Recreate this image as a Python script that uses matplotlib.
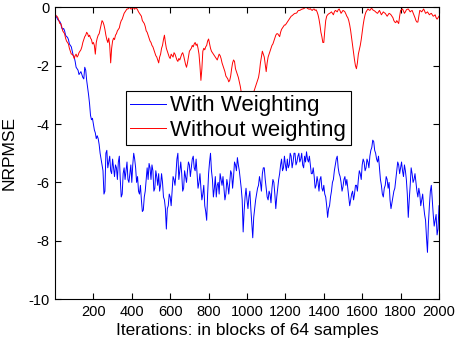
import numpy as np
import matplotlib
matplotlib.use("Agg")
from matplotlib import pyplot as plt

plt.rcParams['font.family'] = ['Liberation Sans', 'DejaVu Sans']
plt.rcParams['axes.unicode_minus'] = False

# iterations: read every 10 blocks, plus the in-between points (every 10, offset 5)
iters_main = np.arange(0, 2001, 10)
iters_mid = np.arange(5, 2000, 10)

# NRPMSE, with weighting (blue) at 0, 10, 20, ...
with_w = [
    -0.25, -0.35, -0.45, -0.55, -0.75, -0.8, -1.0, -1.1, -1.3, -1.5,
    -1.7, -2.05, -2.15, -2.25, -2.3, -2.45, -2.15, -2.75, -3.3, -3.85,
    -4.0, -4.3, -4.4, -4.7, -5.2, -5.6, -6.3, -4.9, -5.3, -5.6,
    -5.2, -5.8, -5.5, -5.3, -5.9, -6.4, -5.5, -5.6, -5.9, -5.7,
    -6.0, -5.0, -5.5, -5.8, -6.4, -6.6, -6.95, -6.3, -5.5, -5.35,
    -5.9, -5.6, -6.2, -5.8, -5.7, -6.1, -6.0, -6.6, -7.6, -6.8,
    -6.5, -6.3, -5.9, -5.7, -5.0, -5.6, -5.7, -6.2, -5.8, -5.6,
    -5.4, -5.5, -5.1, -5.6, -5.7, -6.0, -6.2, -6.4, -6.8, -7.3,
    -5.7, -5.0, -5.9, -6.2, -6.5, -6.0, -5.7, -6.1, -6.2, -6.4,
    -6.1, -6.0, -5.7, -5.8, -5.4, -5.15, -5.6, -6.2, -7.7, -6.5,
    -6.6, -6.5, -6.9, -7.9, -6.9, -6.4, -6.1, -6.0, -5.7, -5.5,
    -6.2, -6.6, -6.4, -6.2, -6.0, -6.9, -6.2, -5.7, -5.2, -5.5,
    -5.4, -5.2, -5.4, -5.1, -5.3, -5.0, -5.3, -5.0, -5.2, -5.4,
    -5.1, -4.95, -5.3, -5.4, -5.7, -5.8, -6.1, -6.0, -5.9, -6.2,
    -6.1, -6.5, -7.2, -6.8, -6.3, -5.9, -5.4, -5.1, -5.7, -6.0,
    -6.15, -5.8, -5.9, -6.5, -6.6, -6.3, -6.4, -6.1, -5.9, -5.7,
    -5.4, -5.3, -5.5, -5.3, -5.1, -4.8, -4.6, -5.0, -5.3, -5.5,
    -6.1, -6.5, -6.1, -5.9, -6.0, -6.9, -6.5, -6.2, -5.6, -5.4,
    -5.5, -5.6, -5.4, -5.9, -7.2, -6.1, -5.7, -5.9, -6.0, -6.5,
    -6.4, -6.6, -6.8, -7.3, -8.4, -6.8, -6.1, -7.1, -7.3, -7.8,
    -6.8,
]

# with weighting, at 5, 15, 25, ...
with_w_mid = [
    -0.3, -0.42, -0.48, -0.7, -0.72, -0.95, -1.02, -1.25, -1.35, -1.65,
    -1.85, -2.1, -2.3, -2.2, -2.4, -2.05, -2.5, -3.0, -3.7, -3.8,
    -4.2, -4.5, -4.5, -5.0, -5.4, -6.4, -5.0, -5.5, -5.1, -5.7,
    -5.5, -5.4, -5.9, -5.1, -6.5, -5.7, -5.9, -5.3, -6.0, -5.4,
    -5.4, -5.2, -6.0, -6.3, -6.1, -7.0, -6.5, -5.9, -5.9, -5.5,
    -5.4, -6.3, -5.6, -6.1, -6.3, -5.7, -6.5, -6.9, -6.9, -6.4,
    -6.8, -5.8, -6.1, -5.2, -5.9, -5.3, -6.3, -5.6, -6.0, -5.3,
    -5.8, -5.2, -5.5, -5.2, -6.2, -5.7, -6.6, -6.1, -7.0, -6.4,
    -5.3, -5.6, -6.5, -5.8, -6.1, -6.4, -5.9, -5.8, -6.6, -5.9,
    -6.4, -5.6, -6.2, -5.3, -5.6, -5.4, -5.9, -6.6, -7.0, -6.2,
    -6.9, -6.3, -7.4, -7.2, -6.6, -6.2, -5.8, -6.3, -5.5, -5.9,
    -6.5, -6.3, -6.7, -5.9, -6.4, -6.5, -5.9, -5.4, -5.6, -5.1,
    -5.6, -5.5, -5.0, -5.5, -5.0, -5.4, -5.1, -5.3, -5.0, -5.5,
    -5.3, -5.2, -5.1, -5.7, -5.5, -6.2, -5.8, -6.3, -5.8, -6.3,
    -6.4, -6.8, -6.9, -6.5, -6.0, -5.6, -5.2, -5.5, -5.8, -6.3,
    -5.9, -6.1, -6.2, -6.8, -6.4, -6.6, -6.1, -6.3, -5.6, -5.9,
    -5.2, -5.6, -5.2, -5.5, -4.9, -4.55, -4.9, -5.2, -5.1, -5.9,
    -6.4, -6.2, -5.8, -6.2, -6.6, -6.7, -6.3, -5.9, -5.3, -5.7,
    -5.3, -5.8, -5.6, -6.4, -6.6, -5.5, -6.0, -5.7, -6.3, -6.2,
    -6.8, -6.4, -7.1, -7.9, -7.4, -6.3, -6.6, -7.5, -7.1, -7.6,
]

# NRPMSE, without weighting (red) at 0, 10, 20, ...
without_w = [
    -0.2, -0.3, -0.45, -0.55, -0.8, -0.9, -1.15, -1.25, -1.5, -1.6,
    -1.75, -1.6, -1.65, -1.5, -1.35, -1.1, -0.95, -0.9, -0.95, -1.1,
    -1.2, -1.6, -1.05, -0.9, -0.6, -0.5, -0.75, -1.1, -1.05, -1.9,
    -1.15, -1.1, -0.9, -0.75, -0.55, -0.4, -0.2, -0.1, -0.05, 0.0,
    -0.05, -0.02, 0.0, -0.08, -0.2, -0.3, -0.5, -0.65, -0.85, -1.05,
    -1.2, -1.35, -1.55, -1.7, -1.9, -1.6, -1.3, -0.95, -1.4, -1.6,
    -1.75, -1.65, -1.55, -1.7, -1.85, -1.8, -1.6, -1.65, -1.95, -1.9,
    -1.5, -1.4, -1.35, -1.2, -1.25, -1.6, -2.5, -1.5, -1.45, -1.3,
    -1.08, -1.4, -1.55, -1.65, -1.75, -1.7, -1.65, -1.9, -2.1, -2.35,
    -2.45, -2.5, -2.1, -1.8, -2.1, -2.3, -2.55, -2.9, -3.1, -3.2,
    -3.0, -3.3, -3.1, -2.95, -2.8, -2.6, -2.4, -1.9, -1.5, -1.7,
    -2.2, -1.7, -1.5, -1.3, -1.15, -0.95, -0.9, -1.0, -0.75, -0.65,
    -0.6, -0.5, -0.4, -0.3, -0.25, -0.2, -0.18, -0.1, -0.08, -0.05,
    -0.02, 0.0, -0.05, -0.04, -0.1, -0.05, -0.08, -0.25, -0.6, -1.0,
    -1.2, -0.45, -0.25, -0.2, -0.15, -0.25, -0.1, -0.15, -0.05, -0.2,
    -0.1, -0.15, -0.3, -0.45, -0.8, -1.3, -1.8, -2.1, -1.6, -1.3,
    -0.85, -0.4, -0.15, -0.05, -0.1, -0.03, -0.1, -0.15, -0.2, -0.1,
    -0.25, -0.15, -0.2, -0.3, -0.2, -0.25, -0.35, -0.5, -0.45, -0.55,
    -0.1, -0.05, -0.2, -0.08, -0.05, -0.15, -0.1, -0.25, -0.45, -0.5,
    -0.1, -0.15, -0.05, -0.2, -0.15, -0.25, -0.2, -0.3, -0.25, -0.4,
    -0.3,
]

# without weighting, at 5, 15, 25, ...
without_w_mid = [
    -0.28, -0.35, -0.55, -0.65, -0.85, -1.05, -1.2, -1.4, -1.6, -1.65,
    -1.65, -1.7, -1.55, -1.45, -1.2, -1.0, -0.85, -1.0, -1.05, -1.25,
    -1.3, -1.2, -0.95, -0.75, -0.45, -0.6, -0.95, -1.2, -1.3, -1.4,
    -1.05, -0.95, -0.8, -0.7, -0.45, -0.3, -0.15, -0.05, -0.02, -0.05,
    0.0, -0.06, -0.03, -0.15, -0.25, -0.45, -0.55, -0.8, -0.95, -1.15,
    -1.3, -1.45, -1.65, -1.8, -1.7, -1.4, -1.1, -1.2, -1.5, -1.7,
    -1.6, -1.7, -1.6, -1.8, -1.75, -1.7, -1.55, -1.8, -2.05, -1.7,
    -1.45, -1.3, -1.25, -1.3, -1.4, -2.0, -2.1, -1.4, -1.35, -1.15,
    -1.25, -1.5, -1.6, -1.7, -1.8, -1.6, -1.75, -2.0, -2.2, -2.4,
    -2.55, -2.35, -1.9, -1.85, -2.2, -2.4, -2.7, -3.0, -3.15, -3.1,
    -3.15, -3.2, -3.0, -2.9, -2.7, -2.5, -2.2, -1.7, -1.6, -1.95,
    -1.9, -1.6, -1.4, -1.25, -1.05, -0.9, -0.95, -0.85, -0.7, -0.6,
    -0.55, -0.45, -0.35, -0.28, -0.22, -0.2, -0.12, -0.1, -0.06, -0.04,
    0.0, -0.03, -0.06, -0.08, -0.06, -0.1, -0.15, -0.4, -0.85, -1.2,
    -0.8, -0.3, -0.22, -0.18, -0.2, -0.15, -0.12, -0.08, -0.12, -0.15,
    -0.12, -0.22, -0.35, -0.6, -1.05, -1.55, -2.0, -1.9, -1.45, -1.1,
    -0.6, -0.25, -0.1, -0.08, -0.05, -0.08, -0.12, -0.18, -0.15, -0.18,
    -0.2, -0.18, -0.25, -0.25, -0.22, -0.3, -0.45, -0.52, -0.5, -0.3,
    -0.08, -0.12, -0.15, -0.06, -0.1, -0.12, -0.18, -0.35, -0.5, -0.3,
    -0.12, -0.1, -0.12, -0.18, -0.2, -0.22, -0.25, -0.28, -0.35, -0.35,
]

xticks = list(range(200, 2001, 200))
yticks = [0, -2, -4, -6, -8, -10]


def merge(x_a, y_a, x_b, y_b):
    x = np.concatenate([x_a, x_b])
    y = np.concatenate([y_a, y_b])
    order = np.argsort(x)
    return x[order], y[order]


x_blue, y_blue = merge(iters_main, with_w, iters_mid, with_w_mid)
x_red, y_red = merge(iters_main, without_w, iters_mid, without_w_mid)

fig = plt.figure(figsize=(4.56, 3.44), dpi=100)
ax = fig.add_axes([0.1206, 0.1308, 0.8421, 0.8474])

ax.plot(x_blue, y_blue, color=(0, 0, 1), lw=0.7, label='With Weighting')
ax.plot(x_red, y_red, color=(1, 0, 0), lw=0.7, label='Without weighting')

ax.set_xlim(0, 2000)
ax.set_ylim(-10, 0)
ax.set_xticks(xticks)
ax.set_yticks(yticks)
ax.tick_params(direction='in', top=True, right=True, length=4, width=0.8,
               labelsize=10.5, pad=4)
for s in ax.spines.values():
    s.set_linewidth(0.8)

ax.set_xlabel('Iterations: in blocks of 64 samples', fontsize=12.5, labelpad=3)
ax.set_ylabel('NRPMSE', fontsize=12.5, labelpad=8)

leg = ax.legend(loc='upper left', bbox_to_anchor=(0.185, 0.7135),
                fontsize=16, frameon=True, fancybox=False, framealpha=1,
                edgecolor='black', borderpad=0.2, labelspacing=0.15,
                handlelength=1.6, handletextpad=0.2, borderaxespad=0)
leg.get_frame().set_linewidth(0.8)

fig.savefig('out.png', dpi=100)
